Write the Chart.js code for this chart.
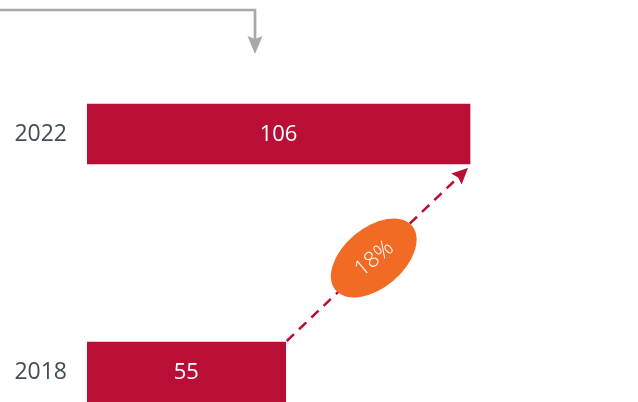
<!DOCTYPE html>
<html>
<head>
<meta charset="utf-8">
<script src="https://cdn.jsdelivr.net/npm/chart.js@4.4.1/dist/chart.umd.min.js"></script>
<style>
  html, body { margin: 0; padding: 0; width: 638px; height: 402px; overflow: hidden; background: #ffffff; }
  canvas { display: block; }
</style>
</head>
<body>
<canvas id="c" width="638" height="500"></canvas>
<script>
const categories = ['2022', '2018'];
const values = [106, 55];
const growthLabel = '18%';
const xTicks = { min: 0, max: 150 };

const BAR_COLOR = '#b90e36';
const ORANGE = '#f26b24';
const GREY = '#a8a9ad';
const LABEL_COLOR = '#414e5a';
const FONT = "'Open Sans', 'Noto Sans', sans-serif";

const overlay = {
  id: 'overlay',
  afterDatasetsDraw(chart) {
    const ctx = chart.ctx;
    const meta = chart.getDatasetMeta(0);
    ctx.save();
    ctx.font = '22px ' + FONT;
    ctx.fillStyle = '#ffffff';
    ctx.textAlign = 'center';
    ctx.textBaseline = 'middle';
    meta.data.forEach((bar, i) => {
      const cx = (bar.base + bar.x) / 2;
      ctx.fillText(String(values[i]), cx, bar.y + 1);
    });
    ctx.restore();

    const top = meta.data[0], bot = meta.data[1];
    const sx = bot.x + 1, sy = bot.y - bot.height / 2 - 1;
    const ex = top.x - 2, ey = top.y + top.height / 2 + 4;
    const ang = Math.atan2(ey - sy, ex - sx);
    const headLen = 16, headW = 7.5;
    const lx = ex - Math.cos(ang) * headLen * 0.8, ly = ey - Math.sin(ang) * headLen * 0.8;
    ctx.save();
    ctx.strokeStyle = BAR_COLOR;
    ctx.lineWidth = 2.5;
    ctx.setLineDash([10, 7]);
    ctx.beginPath();
    ctx.moveTo(sx, sy);
    ctx.lineTo(lx, ly);
    ctx.stroke();
    ctx.setLineDash([]);
    ctx.fillStyle = BAR_COLOR;
    ctx.beginPath();
    ctx.moveTo(ex, ey);
    const bx = ex - Math.cos(ang) * headLen, by = ey - Math.sin(ang) * headLen;
    ctx.lineTo(bx + Math.sin(ang) * headW, by - Math.cos(ang) * headW);
    ctx.lineTo(ex - Math.cos(ang) * headLen * 0.85, ey - Math.sin(ang) * headLen * 0.85);
    ctx.lineTo(bx - Math.sin(ang) * headW, by + Math.cos(ang) * headW);
    ctx.closePath();
    ctx.fill();
    ctx.restore();

    const t = 0.48;
    const mx = sx + (ex - sx) * t, my = sy + (ey - sy) * t;
    const rot = -40 * Math.PI / 180;
    ctx.save();
    ctx.translate(mx, my);
    ctx.rotate(rot);
    ctx.fillStyle = ORANGE;
    ctx.beginPath();
    ctx.ellipse(0, 0, 50, 30, 0, 0, Math.PI * 2);
    ctx.fill();
    ctx.fillStyle = '#ffffff';
    ctx.font = '300 22px ' + FONT;
    ctx.textAlign = 'center';
    ctx.textBaseline = 'middle';
    ctx.fillText(growthLabel, 0, 1);
    ctx.restore();

    const ca = chart.chartArea;
    const gx = ca.left + 168, gy = 10, gEnd = 54;
    ctx.save();
    ctx.strokeStyle = GREY;
    ctx.lineWidth = 2.7;
    ctx.beginPath();
    ctx.moveTo(0, gy);
    ctx.lineTo(gx, gy);
    ctx.lineTo(gx, gEnd - 14);
    ctx.stroke();
    ctx.fillStyle = GREY;
    ctx.beginPath();
    ctx.moveTo(gx - 7.5, gEnd - 18);
    ctx.lineTo(gx, gEnd - 15);
    ctx.lineTo(gx + 7.5, gEnd - 18);
    ctx.lineTo(gx, gEnd);
    ctx.closePath();
    ctx.fill();
    ctx.restore();
  }
};

new Chart(document.getElementById('c'), {
  type: 'bar',
  data: {
    labels: categories,
    datasets: [{
      data: values,
      backgroundColor: BAR_COLOR,
      borderWidth: 0,
      barThickness: 60
    }]
  },
  options: {
    indexAxis: 'y',
    responsive: false,
    animation: false,
    layout: { padding: { top: 15, bottom: 9, left: 0, right: 9 } },
    plugins: { legend: { display: false }, tooltip: { enabled: false } },
    scales: {
      x: {
        min: xTicks.min, max: xTicks.max,
        display: false,
        grid: { display: false }
      },
      y: {
        grid: { display: false, drawTicks: false },
        border: { display: false },
        ticks: {
          color: LABEL_COLOR,
          font: { family: FONT, size: 23 },
          padding: 20
        },
        afterFit(scale) { scale.width = 87; scale.paddingTop = 0; scale.paddingBottom = 0; }
      }
    }
  },
  plugins: [overlay]
});
</script>
</body>
</html>
